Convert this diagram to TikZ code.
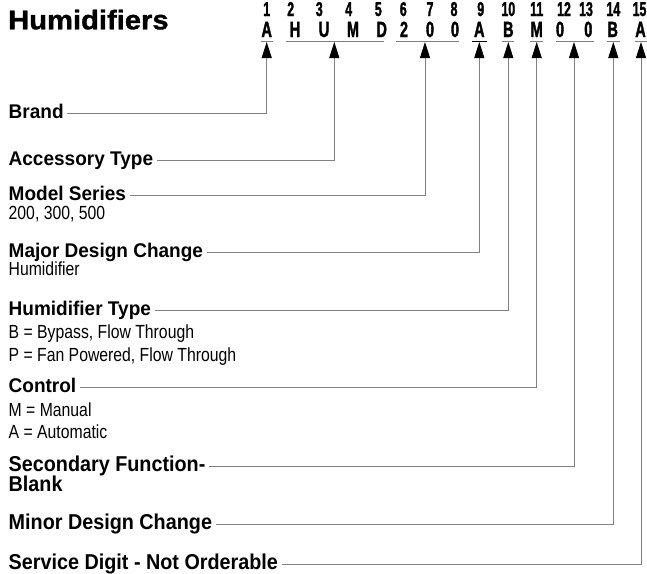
\documentclass[tikz,border=0pt]{standalone}
\usepackage{fontspec}
\setmainfont{Liberation Sans}
\newfontfamily\titlefont[FakeStretch=1.08,FakeBold=1.2]{Liberation Sans}
\newfontfamily\codefont[FakeStretch=0.66,FakeBold=1.5]{Liberation Sans}
\newfontfamily\numfont[FakeStretch=0.62,FakeBold=1.4]{Liberation Sans}
\newfontfamily\subfont[FakeStretch=0.83]{Liberation Sans}
\newfontfamily\headfont[FakeStretch=0.96]{Liberation Sans}
\newfontfamily\narrowbold[FakeStretch=0.92]{Liberation Sans}
\usetikzlibrary{arrows.meta}
\begin{document}
\begin{tikzpicture}[x=1pt,y=-1pt,
  num/.style={anchor=base,inner sep=0pt,font=\numfont\bfseries\fontsize{20}{22}\selectfont},
  code/.style={anchor=base,inner sep=0pt,font=\codefont\bfseries\fontsize{22}{24}\selectfont},
  head/.style={anchor=west,inner xsep=3.5pt,inner ysep=0pt,text height=10pt,text depth=0pt,font=\headfont\bfseries\fontsize{19.8}{22}\selectfont},
  headn/.style={head,font=\narrowbold\bfseries\fontsize{21.5}{24}\selectfont},
  sub/.style={anchor=base west,inner sep=0pt,font=\subfont\fontsize{19}{21}\selectfont},
  uline/.style={draw=gray,line width=0.9pt},
  conn/.style={draw=gray,line width=0.9pt,-{Triangle[width=10pt,length=16pt,color=black]}}]
\useasboundingbox (0,0) rectangle (647,573);
% title
\node[anchor=base west,inner sep=0pt,font=\titlefont\bfseries\fontsize{27}{30}\selectfont] (title) at (8,29.3) {Humidifiers};
% position numbers
\foreach \n/\x in {1/266.7,2/290.7,3/319.3,4/348.7,5/378.3,6/403.3,7/430,8/454,9/480.7,10/508.3,11/536.7,12/564,13/586,14/613.3,15/639.5}
  \node[num] (n\n) at (\x,16) {\n};
% code letters
\foreach \c/\x [count=\i] in {A/266.7,H/295,U/324,M/353,D/381.7,2/404,0/430,0/455,A/479.3,B/508.3,M/536.7,0/560,0/588.3,B/612.7,A/640.5}
  \node[code] (c\i) at (\x,37) {\c};
% underlines
\coordinate (u1a) at (260.7,41); \coordinate (u1b) at (272.7,41);
\coordinate (u2a) at (286,41);   \coordinate (u2b) at (384,41);
\coordinate (u3a) at (396,41);   \coordinate (u3b) at (459.3,41);
\coordinate (u4a) at (472,41);   \coordinate (u4b) at (486.7,41);
\coordinate (u5a) at (501.7,41); \coordinate (u5b) at (514,41);
\coordinate (u6a) at (530,41);   \coordinate (u6b) at (542.7,41);
\coordinate (u7a) at (556,41);   \coordinate (u7b) at (594,41);
\coordinate (u8a) at (606.7,41); \coordinate (u8b) at (620,41);
\coordinate (u9a) at (635,41);   \coordinate (u9b) at (646.7,41);
\foreach \k in {1,2,3,5,6,7,8,9} \draw[uline] (u\k a) -- (u\k b);
\draw[uline,draw=black] (u4a) -- (u4b);
% arrow targets
\coordinate (t1) at (266.7,42);
\coordinate (t2) at (334.3,42);
\coordinate (t3) at (425,42);
\coordinate (t4) at (479.3,42);
\coordinate (t5) at (508.3,42);
\coordinate (t6) at (536.7,42);
\coordinate (t7) at (574,42);
\coordinate (t8) at (613.3,42);
\coordinate (t9) at (641,42);
% headings
\node[head] (brand) at (5,113.3) {Brand};
\node[head] (acc) at (5,160) {Accessory Type};
\node[head] (model) at (5,195) {Model Series};
\node[head] (major) at (5,252.7) {Major Design Change};
\node[head] (htype) at (5,310.7) {Humidifier Type};
\node[head] (control) at (5,387) {Control};
\node[headn] (sec) at (5,466.7) {Secondary Function-};
\node[headn] (minor) at (5,524.3) {Minor Design Change};
\node[headn] (service) at (5,564.3) {Service Digit - Not Orderable};
\node[anchor=base west,inner sep=0pt,font=\narrowbold\bfseries\fontsize{21.5}{24}\selectfont] (blank) at (8.5,491) {Blank};
% sub texts
\node[sub] (s1) at (8.5,219.5) {200, 300, 500};
\node[sub] (s2) at (8.5,275.5) {Humidifier};
\node[sub] (s3) at (8.5,338.3) {B = Bypass, Flow Through};
\node[sub] (s4) at (8.5,361.7) {P = Fan Powered, Flow Through};
\node[sub] (s5) at (8.5,416.7) {M = Manual};
\node[sub] (s6) at (8.5,438.5) {A = Automatic};
% connectors
\draw[conn] (brand.east) -| (t1);
\draw[conn] (acc.east) -| (t2);
\draw[conn] (model.east) -| (t3);
\draw[conn] (major.east) -| (t4);
\draw[conn] (htype.east) -| (t5);
\draw[conn] (control.east) -| (t6);
\draw[conn] (sec.east) -| (t7);
\draw[conn] (minor.east) -| (t8);
\draw[conn] (service.east) -| (t9);
\end{tikzpicture}
\end{document}
